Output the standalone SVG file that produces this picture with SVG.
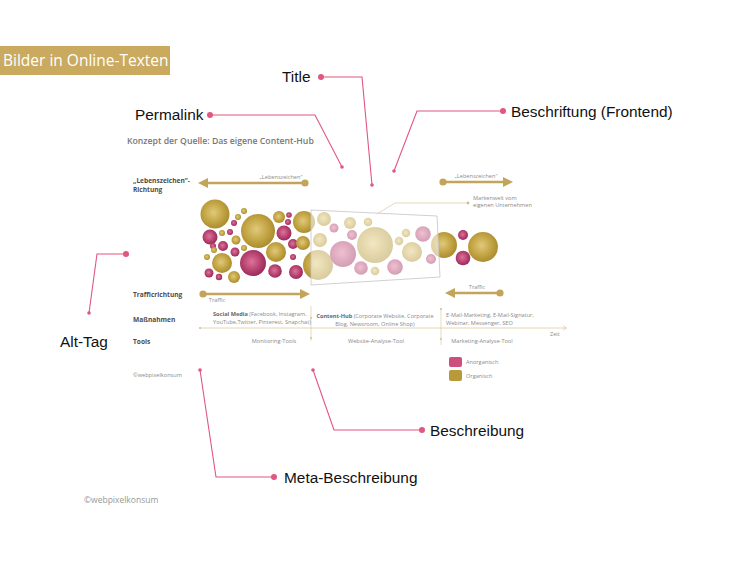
<svg xmlns="http://www.w3.org/2000/svg" width="750" height="563" viewBox="0 0 750 563">
<defs>
<radialGradient id="gG" cx="45%" cy="45%" r="60%">
<stop offset="0" stop-color="#e0c97a"/><stop offset="0.6" stop-color="#c1a241"/><stop offset="1" stop-color="#a4882c"/>
</radialGradient>
<radialGradient id="gP" cx="45%" cy="45%" r="60%">
<stop offset="0" stop-color="#dc7499"/><stop offset="0.6" stop-color="#b5406e"/><stop offset="1" stop-color="#922757"/>
</radialGradient>
<marker id="ahG" viewBox="0 0 10 10" refX="2" refY="5" markerWidth="4" markerHeight="4" orient="auto-start-reverse" markerUnits="strokeWidth">
<path d="M0,0 L10,5 L0,10 z" fill="#c2a55a"/>
</marker>
</defs>
<style>
.hd{font-family:"Open Sans","Liberation Sans",sans-serif;font-size:15.5px;fill:#fff}
.cl{font-family:"Liberation Sans",Arial,sans-serif;font-size:15.4px;fill:#111}
.ln{fill:none;stroke:#e0577f;stroke-width:1.1}
.dt{fill:#e0577f}
.ttl{font-family:"Open Sans","Liberation Sans",sans-serif;font-size:8.7px;font-weight:600;fill:#777}
.rl{font-family:"Open Sans","Liberation Sans",sans-serif;font-size:6.6px;font-weight:700;fill:#4d4d4d}
.sm{font-family:"Open Sans","Liberation Sans",sans-serif;font-size:5.6px;fill:#8a8a8a}
.smb{font-weight:700;fill:#666}
.ga{stroke:#c2a55a;stroke-width:2.5;fill:none}
.gd{fill:#c2a55a}
.g{fill:url(#gG)}
.p{fill:url(#gP)}
.vl{stroke:#dccb9c;stroke-width:0.7;fill:none}
</style>
<rect width="750" height="563" fill="#fff"/>

<g id="header">
<rect x="0" y="46" width="170" height="29" fill="#c9aa5f"/>
<text class="hd" x="3" y="66">Bilder in Online-Texten</text>
</g>

<g id="inner-graphic">
<text class="ttl" x="127" y="144">Konzept der Quelle: Das eigene Content-Hub</text>
<text class="rl" x="133" y="183">„Lebenszeichen“-</text>
<text class="rl" x="133" y="192">Richtung</text>
<text class="rl" x="133" y="297">Trafficrichtung</text>
<text class="rl" x="133" y="322">Maßnahmen</text>
<text class="rl" x="133" y="344">Tools</text>

<g id="arrows">
<line class="ga" x1="305" y1="183" x2="206" y2="183" marker-end="url(#ahG)"/>
<circle class="gd" cx="305" cy="183" r="3.6"/>
<text class="sm" x="281" y="179" text-anchor="middle">„Lebenszeichen“</text>
<line class="ga" x1="443" y1="182" x2="505" y2="182" marker-end="url(#ahG)"/>
<circle class="gd" cx="443" cy="182" r="3.6"/>
<text class="sm" x="476" y="178" text-anchor="middle">„Lebenszeichen“</text>
<line class="ga" x1="203" y1="294" x2="302" y2="294" marker-end="url(#ahG)"/>
<circle class="gd" cx="203" cy="294" r="3.6"/>
<text class="sm" x="217" y="302" text-anchor="middle">Traffic</text>
<line class="ga" x1="500" y1="293" x2="453" y2="293" marker-end="url(#ahG)"/>
<circle class="gd" cx="500" cy="293" r="3.6"/>
<text class="sm" x="477" y="289" text-anchor="middle">Traffic</text>
</g>

<g id="bubbles">
<circle class="g" cx="215" cy="214" r="14.5"/>
<circle class="g" cx="238" cy="217" r="3"/>
<circle class="g" cx="244" cy="211" r="3"/>
<circle class="p" cx="234" cy="223" r="3"/>
<circle class="g" cx="258" cy="231" r="17"/>
<circle class="g" cx="279" cy="217" r="6"/>
<circle class="p" cx="289" cy="215" r="2.8"/>
<circle class="p" cx="288" cy="222" r="3"/>
<circle class="g" cx="304" cy="222" r="11"/>
<circle class="p" cx="210" cy="237" r="7.5"/>
<circle class="g" cx="222" cy="233" r="3"/>
<circle class="p" cx="230" cy="232" r="3"/>
<circle class="g" cx="236" cy="240" r="4.5"/>
<circle class="p" cx="284" cy="233" r="7.5"/>
<circle class="p" cx="223" cy="246" r="5"/>
<circle class="p" cx="213" cy="246" r="3"/>
<circle class="p" cx="235" cy="252" r="4.5"/>
<circle class="g" cx="244" cy="248" r="3"/>
<circle class="g" cx="276" cy="252" r="10"/>
<circle class="p" cx="293" cy="244" r="5"/>
<circle class="g" cx="303" cy="243" r="7"/>
<circle class="g" cx="214" cy="250" r="3"/>
<circle class="g" cx="207" cy="257" r="3"/>
<circle class="g" cx="222" cy="263" r="10"/>
<circle class="p" cx="253" cy="263" r="13"/>
<circle class="p" cx="209" cy="273" r="4.5"/>
<circle class="p" cx="219" cy="277" r="3.2"/>
<circle class="g" cx="234" cy="277" r="6"/>
<circle class="p" cx="275" cy="271" r="6.8"/>
<circle class="p" cx="293" cy="257" r="3"/>
<circle class="p" cx="296" cy="272" r="7"/>
<circle class="g" cx="318" cy="265" r="15"/>
<circle class="g" cx="320" cy="240" r="7"/>
<circle class="g" cx="324" cy="219" r="7"/>
<circle class="p" cx="334" cy="228" r="4.5"/>
<circle class="g" cx="350" cy="223" r="6"/>
<circle class="g" cx="368" cy="222" r="4.3"/>
<circle class="p" cx="352" cy="235" r="5"/>
<circle class="g" cx="375" cy="245" r="18"/>
<circle class="g" cx="406" cy="233" r="4.3"/>
<circle class="p" cx="423" cy="234" r="7.8"/>
<circle class="g" cx="399" cy="241" r="4.3"/>
<circle class="g" cx="412" cy="252" r="10"/>
<circle class="p" cx="343" cy="254" r="13"/>
<circle class="p" cx="361" cy="268" r="6.8"/>
<circle class="g" cx="375" cy="271" r="4.3"/>
<circle class="p" cx="395" cy="267" r="7.8"/>
<circle class="p" cx="431" cy="259" r="5"/>
<circle class="g" cx="444" cy="245" r="13"/>
<circle class="p" cx="463" cy="235" r="5"/>
<circle class="p" cx="463" cy="258" r="7.3"/>
<circle class="g" cx="483" cy="247" r="15"/>
</g>

<polygon id="brand-box" points="311,210 437,216 440,277 311,285" fill="#fff" fill-opacity="0.55" stroke="#c4c4c4" stroke-width="0.8"/>
<polyline points="377,214 395,203 468,203" fill="none" stroke="#d8c99c" stroke-width="0.7"/>
<circle cx="468" cy="203" r="1.4" fill="#d2bf86"/>
<text class="sm" x="473" y="200" fill="#999">Markenwelt vom</text>
<text class="sm" x="473" y="207" fill="#999">eigenen Unternehmen</text>

<g id="timeline">
<line x1="200" y1="328" x2="566" y2="328" stroke="#dccb9c" stroke-width="0.8"/>
<circle cx="200" cy="328" r="1" fill="#d2bf86"/>
<path d="M563,326 L567,328 L563,330" fill="none" stroke="#dccb9c" stroke-width="0.7"/>
<line class="vl" x1="311" y1="306" x2="311" y2="341"/>
<circle cx="311" cy="318" r="0.9" fill="#d2bf86"/>
<circle cx="311" cy="338" r="0.9" fill="#d2bf86"/>
<line class="vl" x1="441" y1="308" x2="441" y2="345"/>
<circle cx="441" cy="309" r="0.9" fill="#d2bf86"/>
<circle cx="441" cy="339" r="0.9" fill="#d2bf86"/>
<text class="sm" x="550" y="336">Zeit</text>
</g>

<text class="sm" x="213" y="316"><tspan class="smb">Social Media</tspan> (Facebook, Instagram,</text>
<text class="sm" x="213" y="324">YouTube,Twitter, Pinterest, Snapchat)</text>
<text class="sm" x="375" y="318" text-anchor="middle"><tspan class="smb">Content-Hub</tspan> (Corporate Website, Corporate</text>
<text class="sm" x="375" y="326" text-anchor="middle">Blog, Newsroom, Online Shop)</text>
<text class="sm" x="446" y="317">E-Mail-Marketing, E-Mail-Signatur,</text>
<text class="sm" x="446" y="325">Webinar, Messenger, SEO</text>
<text class="sm" x="274" y="343" text-anchor="middle">Monitoring-Tools</text>
<text class="sm" x="376" y="343" text-anchor="middle">Website-Analyse-Tool</text>
<text class="sm" x="482" y="343" text-anchor="middle">Marketing-Analyse-Tool</text>

<g id="legend">
<rect x="449" y="357" width="13" height="10" rx="2" fill="#cf4f7c"/>
<text class="sm" x="466" y="364">Anorganisch</text>
<rect x="449" y="370" width="13" height="11" rx="2" fill="#b99a3b"/>
<text class="sm" x="466" y="378">Organisch</text>
</g>
<text class="sm" x="133" y="377" font-size="5px">©webpixelkonsum</text>
</g>

<g id="connectors">
<polyline class="ln" points="321,77 362,77 372,185"/>
<polyline class="ln" points="210,115 315,115 342,167"/>
<polyline class="ln" points="503,111 417,111 394,171"/>
<polyline class="ln" points="126,254 97,254 89,313"/>
<polyline class="ln" points="313,370 334,430 422,430"/>
<polyline class="ln" points="200,370 216,477 274,477"/>
</g>

<g id="callout-title">
<text class="cl" x="282" y="82">Title</text>
<circle class="dt" cx="321" cy="77" r="3"/>
<circle class="dt" cx="372" cy="185" r="1.8"/>
</g>
<g id="callout-permalink">
<text class="cl" x="135" y="120">Permalink</text>
<circle class="dt" cx="210" cy="115" r="3"/>
<circle class="dt" cx="342" cy="167" r="1.8"/>
</g>
<g id="callout-beschriftung">
<text class="cl" x="511" y="117">Beschriftung (Frontend)</text>
<circle class="dt" cx="503" cy="111" r="3"/>
<circle class="dt" cx="394" cy="171" r="1.8"/>
</g>
<g id="callout-alttag">
<text class="cl" x="60" y="347">Alt-Tag</text>
<circle class="dt" cx="126" cy="254" r="3"/>
<circle class="dt" cx="89" cy="313" r="1.8"/>
</g>
<g id="callout-beschreibung">
<text class="cl" x="430" y="436">Beschreibung</text>
<circle class="dt" cx="422" cy="430" r="3"/>
<circle class="dt" cx="313" cy="370" r="1.8"/>
</g>
<g id="callout-meta">
<text class="cl" x="284" y="483">Meta-Beschreibung</text>
<circle class="dt" cx="274" cy="477" r="3"/>
<circle class="dt" cx="200" cy="370" r="1.8"/>
</g>

<text x="84" y="503" font-family="'Open Sans','Liberation Sans',sans-serif" font-size="8.5px" fill="#999">©webpixelkonsum</text>
</svg>
